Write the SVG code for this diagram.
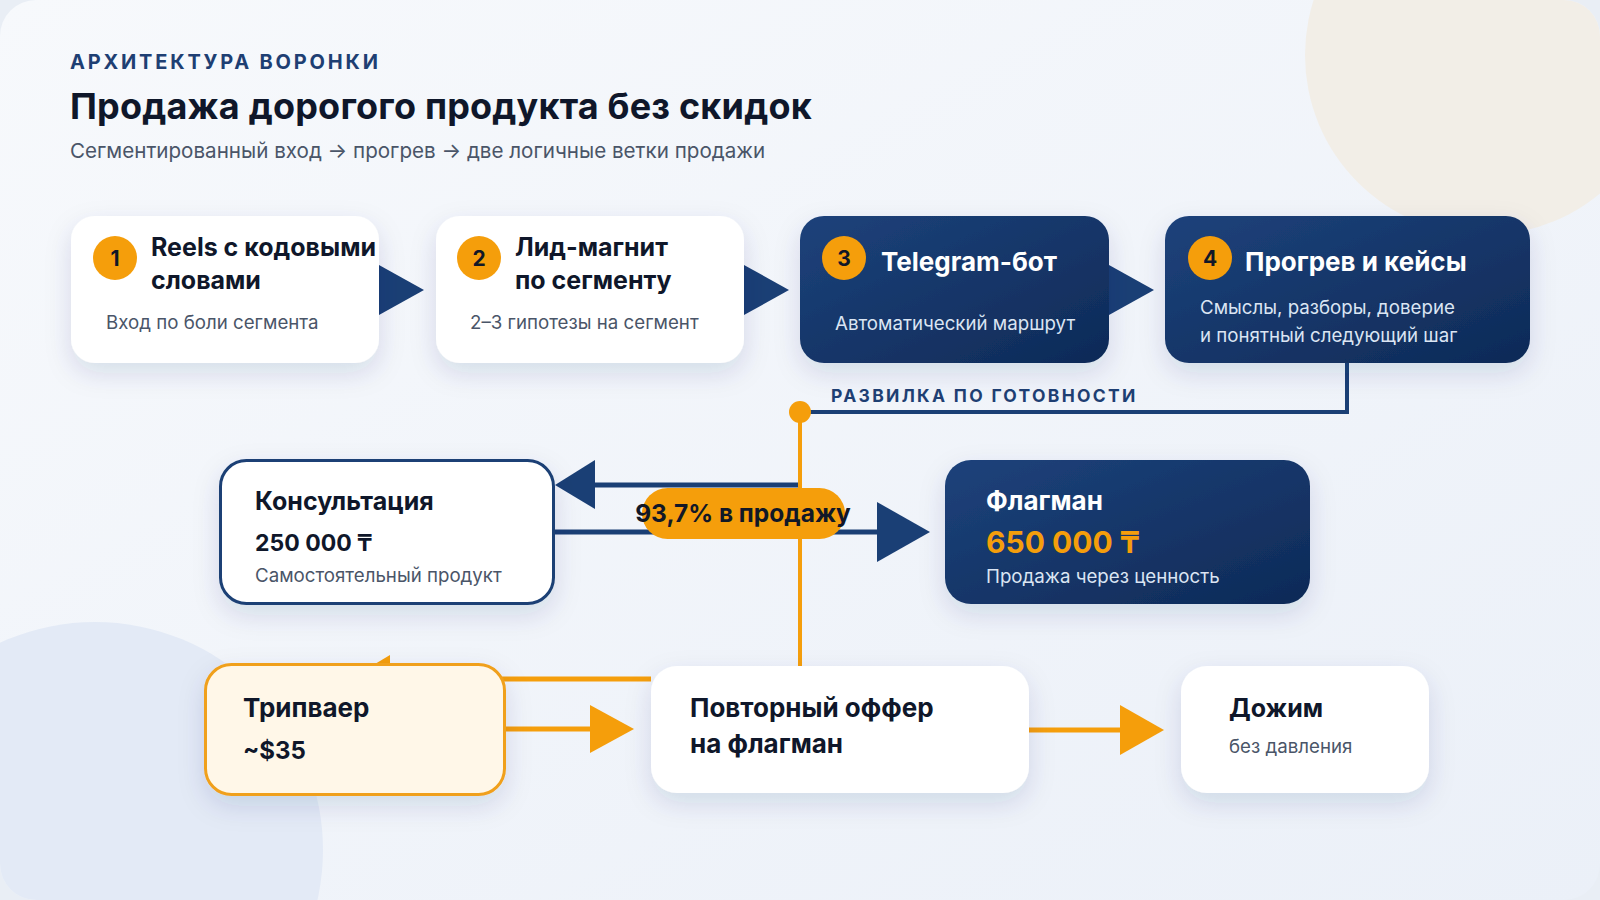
<svg xmlns="http://www.w3.org/2000/svg" width="1600" height="900" viewBox="0 0 1600 900">
  <defs>
    <linearGradient id="bg" x1="0" y1="0" x2="1" y2="1">
      <stop offset="0" stop-color="#f7f9fc"/>
      <stop offset="1" stop-color="#ebf0f8"/>
    </linearGradient>
    <linearGradient id="navy" x1="0" y1="0" x2="1" y2="1">
      <stop offset="0" stop-color="#1d427b"/>
      <stop offset="1" stop-color="#0e2a57"/>
    </linearGradient>
    <clipPath id="frame">
      <rect x="0" y="0" width="1600" height="900" rx="36"/>
    </clipPath>
    <filter id="sh" x="-20%" y="-30%" width="140%" height="170%">
      <feDropShadow dx="0" dy="10" stdDeviation="13" flood-color="#1e3a6e" flood-opacity="0.13"/>
    </filter>
    <style>
      text { font-family: Inter, "Liberation Sans", "Noto Sans", sans-serif; }
      .card { fill: #ffffff; filter: url(#sh); }
      .dark { fill: url(#navy); filter: url(#sh); }
      .badge { fill: #f59e0b; }
      .num { font-size: 21px; font-weight: 700; fill: #111827; text-anchor: middle; }
      .t1 { font-size: 25px; font-weight: 700; fill: #0f172a; }
      .t2 { font-size: 26px; font-weight: 700; fill: #0f172a; }
      .tw { font-size: 26px; font-weight: 700; fill: #ffffff; }
      .sub { font-size: 18.7px; fill: #4a5568; }
      .subw { font-size: 18.7px; fill: #dbe5f3; }
      .navyline { stroke: #1a3f75; stroke-width: 5; fill: none; }
      .orline { stroke: #f59e0b; stroke-width: 5; fill: none; }
      .navyhead { fill: #1a3f75; }
      .orhead { fill: #f59e0b; }
    </style>
  </defs>

  <rect x="0" y="0" width="1600" height="900" fill="#e9eef5"/>
  <g clip-path="url(#frame)">
    <rect x="0" y="0" width="1600" height="900" fill="url(#bg)"/>
    <circle cx="1485" cy="55" r="180" fill="#f2eee7"/>
    <circle cx="95" cy="850" r="228" fill="#e3eaf6"/>
  </g>

  <g id="header">
    <text x="70" y="69" font-size="20" font-weight="700" fill="#1e3f73" letter-spacing="2.8">АРХИТЕКТУРА ВОРОНКИ</text>
    <text x="70" y="119" font-size="36" font-weight="700" fill="#0f172a" letter-spacing="0.2">Продажа дорогого продукта без скидок</text>
    <text x="70" y="158" font-size="20.6" fill="#4a5568">Сегментированный вход → прогрев → две логичные ветки продажи</text>
  </g>

  <g id="connectors">
    <polygon class="navyhead" points="379,265 424,290 379,315"/>
    <polygon class="navyhead" points="744,265 789,290 744,315"/>
    <polygon class="navyhead" points="1109,265 1154,290 1109,315"/>
    <polyline points="1347,363 1347,412 800,412" stroke="#1a3f75" stroke-width="4" fill="none"/>
    <text x="831" y="402" font-size="17.5" font-weight="700" fill="#1e3f73" letter-spacing="2.3">РАЗВИЛКА ПО ГОТОВНОСТИ</text>
    <line x1="800" y1="485" x2="594" y2="485" class="navyline"/>
    <polygon class="navyhead" points="595,460 555,485 595,509"/>
    <line x1="555" y1="532" x2="878" y2="532" class="navyline"/>
    <polygon class="navyhead" points="877,502 930,532 877,562"/>
    <line x1="800" y1="412" x2="800" y2="666" stroke="#f59e0b" stroke-width="4"/>
    <circle cx="800" cy="412" r="11" fill="#f59e0b"/>
    <line x1="651" y1="679" x2="388" y2="679" class="orline"/>
    <polygon class="orhead" points="390,655 350,679 390,703"/>
    <line x1="504" y1="729" x2="591" y2="729" class="orline"/>
    <polygon class="orhead" points="590,705 634,729 590,753"/>
    <line x1="1029" y1="730" x2="1121" y2="730" class="orline"/>
    <polygon class="orhead" points="1120,705 1164,730 1120,755"/>
    <g id="pill">
      <rect x="642" y="488" width="203" height="51" rx="25.5" fill="#f59e0b"/>
      <text x="743" y="522" font-size="24.5" font-weight="700" fill="#111827" text-anchor="middle">93,7% в продажу</text>
    </g>
  </g>

  <g id="node1">
    <rect class="card" x="71" y="216" width="308" height="147" rx="24"/>
    <circle class="badge" cx="115" cy="258" r="22"/>
    <text class="num" x="115" y="266">1</text>
    <text class="t1" x="151" y="256">Reels с кодовыми</text>
    <text class="t1" x="151" y="289">словами</text>
    <text class="sub" x="106" y="329">Вход по боли сегмента</text>
  </g>

  <g id="node2">
    <rect class="card" x="436" y="216" width="308" height="147" rx="24"/>
    <circle class="badge" cx="479" cy="258" r="22"/>
    <text class="num" x="479" y="266">2</text>
    <text class="t1" x="515" y="256">Лид-магнит</text>
    <text class="t1" x="515" y="289">по сегменту</text>
    <text class="sub" x="470" y="329">2–3 гипотезы на сегмент</text>
  </g>

  <g id="node3">
    <rect class="dark" x="800" y="216" width="309" height="147" rx="24"/>
    <circle class="badge" cx="844" cy="258" r="22"/>
    <text class="num" x="844" y="266">3</text>
    <text class="tw" x="881" y="271">Telegram-бот</text>
    <text class="subw" x="835" y="330">Автоматический маршрут</text>
  </g>

  <g id="node4">
    <rect class="dark" x="1165" y="216" width="365" height="147" rx="24"/>
    <circle class="badge" cx="1210" cy="258" r="22"/>
    <text class="num" x="1210" y="266">4</text>
    <text class="tw" x="1245" y="271">Прогрев и кейсы</text>
    <text class="subw" x="1200" y="314">Смыслы, разборы, доверие</text>
    <text class="subw" x="1200" y="342">и понятный следующий шаг</text>
  </g>

  <g id="consult">
    <rect x="220.5" y="460.5" width="333" height="143" rx="26" fill="#ffffff" stroke="#1a3f75" stroke-width="3" filter="url(#sh)"/>
    <text class="t1" x="255" y="510">Консультация</text>
    <text x="255" y="551" font-size="23" font-weight="700" fill="#0f172a">250 000 ₸</text>
    <text class="sub" x="255" y="582">Самостоятельный продукт</text>
  </g>

  <g id="flagman">
    <rect class="dark" x="945" y="460" width="365" height="144" rx="26"/>
    <text class="tw" x="986" y="510">Флагман</text>
    <text x="986" y="553" font-size="30" font-weight="700" fill="#f59e0b">650 000 ₸</text>
    <text class="subw" x="986" y="583">Продажа через ценность</text>
  </g>

  <g id="tripwire">
    <rect x="205.5" y="664.5" width="299" height="130" rx="26" fill="#fff7e8" stroke="#f0a01c" stroke-width="3" filter="url(#sh)"/>
    <text class="t2" x="243" y="717">Трипваер</text>
    <text x="243" y="759" font-size="24" font-weight="700" fill="#0f172a">~$35</text>
  </g>

  <g id="repeat">
    <rect class="card" x="651" y="666" width="378" height="127" rx="26"/>
    <text class="t2" x="690" y="717">Повторный оффер</text>
    <text class="t2" x="690" y="753">на флагман</text>
  </g>

  <g id="dozhim">
    <rect class="card" x="1181" y="666" width="248" height="127" rx="26"/>
    <text x="1229" y="717" font-size="25" font-weight="700" fill="#0f172a">Дожим</text>
    <text class="sub" x="1229" y="753">без давления</text>
  </g>
</svg>
